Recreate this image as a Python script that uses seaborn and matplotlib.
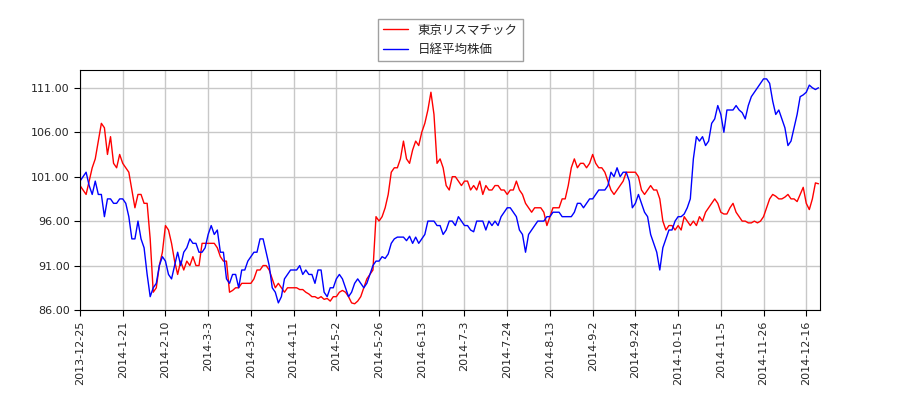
import matplotlib
matplotlib.use("Agg")
import matplotlib.pyplot as plt
import seaborn as sns
import pandas as pd

tick_labels = ["2013-12-25","2014-1-21","2014-2-10","2014-3-3","2014-3-24","2014-4-11",
               "2014-5-2","2014-5-26","2014-6-13","2014-7-3","2014-7-24","2014-8-13",
               "2014-9-2","2014-9-24","2014-10-15","2014-11-5","2014-11-26","2014-12-16"]

risu = [
100,99.5,99,100.5,102,103,105,107,106.5,103.5,105.5,102.5,102,103.5,
102.5,102,101.5,99.5,97.5,99,99,98,98,94,88,88.5,91,92.5,
95.5,95,93.5,91.5,90,91.5,90.5,91.5,91,92,91,91,93.5,93.5,
93.5,93.5,93.5,93,92,91.5,91.5,88,88.2,88.5,88.5,89,89,89,
89,89.5,90.5,90.5,91,91,90.5,89.5,88.5,89,88.5,88,88.5,88.5,
88.5,88.5,88.3,88.3,88,87.8,87.5,87.5,87.3,87.5,87.2,87.3,87,87.5,
87.5,88,88.2,88,87.5,86.8,86.7,87,87.5,88.5,89.5,90,90.5,96.5,
96,96.5,97.5,99,101.5,102,102,103,105,103,102.5,104,105,104.5,
106,107,108.5,110.5,108,102.5,103,102,100,99.5,101,101,100.5,100,
100.5,100.5,99.5,100,99.5,100.5,99,100,99.5,99.5,100,100,99.5,99.5,
99,99.5,99.5,100.5,99.5,99,98,97.5,97,97.5,97.5,97.5,97,95.5,
96.5,97.5,97.5,97.5,98.5,98.5,100,102,103,102,102.5,102.5,102,102.5,
103.5,102.5,102,102,101.5,100.5,99.5,99,99.5,100,100.5,101.5,101.5,101.5,
101.5,101,99.5,99,99.5,100,99.5,99.5,98.5,96,95,95.5,95.5,95,
95.5,95,96.5,96,95.5,96,95.5,96.5,96,97,97.5,98,98.5,98,
97,96.8,96.8,97.5,98,97,96.5,96,96,95.8,95.8,96,95.8,96,
96.5,97.5,98.5,99,98.8,98.5,98.5,98.7,99,98.5,98.5,98.2,99,99.8,
98,97.3,98.5,100.3,100.2]

nikkei = [
100.5,101,101.5,100,99,100.5,99,99,96.5,98.5,98.5,98,98,98.5,
98.5,98,96.5,94,94,96,94,93,90,87.5,88.5,89,91,92,
91.5,90,89.5,91,92.5,91,92.5,93,94,93.5,93.5,92.5,92.5,93,
94.5,95.5,94.5,95,92.5,92.5,89.5,89,90,90,88.5,90.5,90.5,91.5,
92,92.5,92.5,94,94,92.5,91,88.5,88,86.8,87.5,89.5,90,90.5,
90.5,90.5,91,90,90.5,90,90,89,90.5,90.5,88,87.5,88.5,88.5,
89.5,90,89.5,88.5,87.5,88,89,89.5,89,88.5,89,90,91,91.5,
91.5,92,91.8,92.3,93.5,94,94.2,94.2,94.2,93.8,94.3,93.5,94.2,93.5,
94,94.5,96,96,96,95.5,95.5,94.5,95,96,96,95.5,96.5,96,
95.5,95.5,95,94.8,96,96,96,95,96,95.5,96,95.5,96.5,97,
97.5,97.5,97,96.5,95,94.5,92.5,94.5,95,95.5,96,96,96,96.5,
96.5,97,97,97,96.5,96.5,96.5,96.5,97,98,98,97.5,98,98.5,
98.5,99,99.5,99.5,99.5,100,101.5,101,102,101,101.5,101.5,100.5,97.5,
98,99,98,97,96.5,94.5,93.5,92.5,90.5,93,94,95,95,96,
96.5,96.5,96.8,97.5,98.5,103,105.5,105,105.5,104.5,105,107,107.5,109,
108,106,108.5,108.5,108.5,109,108.5,108.2,107.5,109,110,110.5,111,111.5,
112,112,111.5,109.5,108,108.5,107.5,106.5,104.5,105,106.5,108,110,110.2,
110.5,111.3,111,110.8,111]

n = min(len(risu), len(nikkei))
df = pd.DataFrame({"idx": range(n), "risu": risu[:n], "nikkei": nikkei[:n]})

sns.set_style("white")
plt.rcParams['font.family'] = ['Noto Sans CJK JP', 'DejaVu Sans']

fig = plt.figure(figsize=(9, 4), dpi=100)
ax = fig.add_axes([80/900, 1-310/400, 740/900, 240/400])
sns.lineplot(data=df, x="idx", y="risu", color="red", lw=1, ax=ax, label="東京リスマチック")
sns.lineplot(data=df, x="idx", y="nikkei", color="blue", lw=1, ax=ax, label="日経平均株価")

ax.set_xlim(0, n - 0.5)
ax.set_ylim(86, 113)
ax.set_xticks([i*14 for i in range(len(tick_labels))])
ax.set_xticklabels(tick_labels, rotation=90, fontsize=8, family='DejaVu Sans')
ax.set_yticks([86, 91, 96, 101, 106, 111])
ax.set_yticklabels([f"{v:.2f}" for v in [86, 91, 96, 101, 106, 111]], fontsize=8, family='DejaVu Sans')
ax.grid(True, color="#c8c8c8", lw=1)
ax.set_xlabel(""); ax.set_ylabel("")
for s in ax.spines.values():
    s.set_color("black")
ax.tick_params(axis='both', length=4, color='black', direction='out', bottom=True, left=True)
ax.legend(loc="upper center", bbox_to_anchor=(0.5, 1.24), fontsize=9, frameon=True,
          fancybox=False, edgecolor="#888888")
fig.savefig("out.png")
